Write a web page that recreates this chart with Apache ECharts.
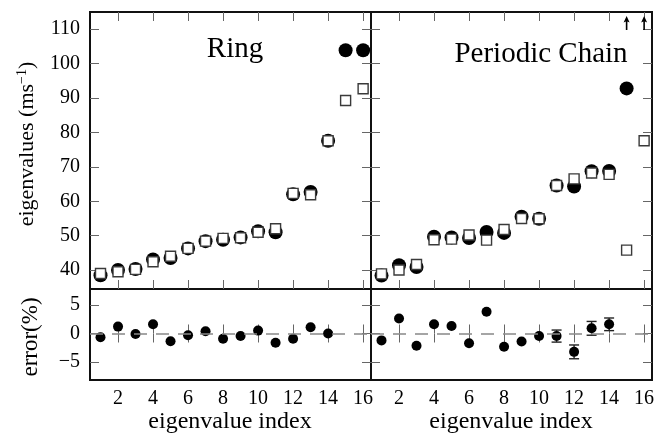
<!DOCTYPE html>
<html>
<head>
<meta charset="utf-8">
<script src="https://cdn.jsdelivr.net/npm/echarts@6/dist/echarts.min.js"></script>
<style>html,body{margin:0;padding:0;background:#fff}#c{width:664px;height:437px}</style>
</head>
<body>
<div id="c"></div>
<script>
// ---- data ----
const indices = [1,2,3,4,5,6,7,8,9,10,11,12,13,14,15,16];
const ringCircle  = [38.5,40.0,40.3,43.1,43.5,46.3,48.4,48.8,49.5,51.3,51.0,62.0,62.7,77.6,103.9,103.9];
const ringSquare  = [39.0,39.5,40.2,42.4,44.0,46.3,48.4,49.2,49.4,51.0,52.0,62.3,61.9,77.6,89.3,92.7];
const chainCircle = [38.4,41.4,40.9,49.7,49.5,49.3,51.1,50.8,55.5,54.9,64.6,64.3,68.7,68.8,92.8,null];
const chainSquare = [38.9,40.0,41.6,48.8,49.0,50.2,48.7,51.8,55.0,54.9,64.6,66.5,68.2,67.8,45.8,77.6];
const offscaleIndex = [15,16];
const offscaleMark  = [111.8,111.8];
const errIndex = [1,2,3,4,5,6,7,8,9,10,11,12,13,14];
const ringError  = [-0.64,1.2,-0.1,1.6,-1.35,-0.3,0.4,-0.9,-0.45,0.5,-1.6,-0.9,1.1,0.0];
const chainError = [-1.2,2.6,-2.15,1.6,1.3,-1.7,3.8,-2.3,-1.4,-0.45,-0.45,-3.2,0.9,1.6];
const chainErrorBar = [0,0,0,0,0,0,0,0,0,0,1.05,1.2,1.2,1.1];
const xTicks = [2,4,6,8,10,12,14,16];
const yTopTicks = [40,50,60,70,80,90,100,110];
const yBotTicks = [-5,0,5];

// ---- layout ----
const FONT = 'Liberation Serif';
const L = 90, W = 281, T = 12, HT = 277, HB = 91;
const grids = [
  {left: L, top: T, width: W, height: HT},
  {left: L + W, top: T, width: W, height: HT},
  {left: L, top: T + HT, width: W, height: HB},
  {left: L + W, top: T + HT, width: W, height: HB}
].map(g => Object.assign({show: true, borderColor: '#111', borderWidth: 2, backgroundColor: 'transparent'}, g));

const tickStyle = {lineStyle: {color: '#666', width: 1}};
function xAx(grid, pos, labels) {
  return {
    type: 'value', gridIndex: grid, position: pos, min: 0.4, max: 16.45,
    axisLine: {show: false}, splitLine: {show: false},
    axisTick: Object.assign({show: true, inside: true, length: 9, customValues: xTicks}, tickStyle),
    axisLabel: {show: labels, customValues: xTicks, margin: 9, color: '#000', fontFamily: FONT, fontSize: 20}
  };
}
function yAx(grid, pos, top, labels) {
  const ticks = top ? yTopTicks : yBotTicks;
  return {
    type: 'value', gridIndex: grid, position: pos,
    min: top ? 34.5 : -8.1, max: top ? 115 : 7.75,
    axisLine: {show: false}, splitLine: {show: false},
    axisTick: Object.assign({show: true, inside: true, length: 9, customValues: ticks}, tickStyle),
    axisLabel: {show: labels, customValues: ticks, margin: 10, color: '#000', fontFamily: FONT, fontSize: 20,
      formatter: v => v < 0 ? '\u2212' + Math.abs(v) : String(v)}
  };
}
const xAxes = [], yAxes = [];
for (let g = 0; g < 4; g++) {
  xAxes.push(xAx(g, 'bottom', g >= 2));
  xAxes.push(xAx(g, 'top', false));
  yAxes.push(yAx(g, 'left', g < 2, g % 2 === 0));
  yAxes.push(yAx(g, 'right', g < 2, false));
}
const pair = (xs, ys) => xs.map((x, i) => [x, ys[i]]);

function circles(g, vals, size) {
  return {type: 'scatter', xAxisIndex: 2*g, yAxisIndex: 2*g, data: pair(indices.slice(0, vals.length), vals).filter(d => d[1] != null),
    symbol: 'circle', symbolSize: size, itemStyle: {color: '#000', opacity: 1}, z: 2, silent: true};
}
function squares(g, vals) {
  return {type: 'scatter', xAxisIndex: 2*g, yAxisIndex: 2*g, data: pair(indices, vals),
    symbol: 'rect', symbolSize: 10, itemStyle: {color: '#fff', borderColor: '#3a3a3a', borderWidth: 1.4, opacity: 1}, z: 3, silent: true};
}
function zeroLine() {
  return {silent: true, symbol: 'none', label: {show: false},
    lineStyle: {color: '#888', width: 1.5, type: [13, 9]}, data: [{yAxis: 0}]};
}
function errSeries(g, vals) {
  return {type: 'scatter', xAxisIndex: 2*g, yAxisIndex: 2*g, data: pair(errIndex, vals),
    symbol: 'circle', symbolSize: 10, itemStyle: {color: '#000', opacity: 1}, z: 3, silent: true, markLine: zeroLine()};
}

const series = [
  circles(0, ringCircle, 14), squares(0, ringSquare),
  circles(1, chainCircle, 14), squares(1, chainSquare),
  {type: 'scatter', xAxisIndex: 2, yAxisIndex: 2, data: pair(offscaleIndex, offscaleMark),
    symbol: 'path://M3,0 L6,6.5 L3.8,5.5 L3.8,14 L2.2,14 L2.2,5.5 L0,6.5 Z', symbolSize: [6, 14],
    itemStyle: {color: '#000', opacity: 1}, silent: true},
  errSeries(2, ringError),
  errSeries(3, chainError),
  {type: 'custom', xAxisIndex: 6, yAxisIndex: 6, silent: true, z: 2,
    data: errIndex.map((x, i) => [x, chainError[i], chainErrorBar[i]]),
    renderItem: function (params, api) {
      const x = api.value(0), y = api.value(1), e = api.value(2);
      if (!e) return null;
      const hi = api.coord([x, y + e]), lo = api.coord([x, y - e]);
      const cw = 5, st = {stroke: '#222', lineWidth: 1.4};
      return {type: 'group', children: [
        {type: 'line', shape: {x1: hi[0], y1: hi[1], x2: lo[0], y2: lo[1]}, style: st},
        {type: 'line', shape: {x1: hi[0]-cw, y1: hi[1], x2: hi[0]+cw, y2: hi[1]}, style: st},
        {type: 'line', shape: {x1: lo[0]-cw, y1: lo[1], x2: lo[0]+cw, y2: lo[1]}, style: st}
      ]};
    }}
];

const txt = (x, y, text, size, rot, extra) => ({
  type: 'text', x: x, y: y, rotation: rot || 0, silent: true,
  style: Object.assign({text: text, fill: '#000', font: size + 'px "' + FONT + '"',
    align: 'center', verticalAlign: 'middle', textAlign: 'center', textVerticalAlign: 'middle'}, extra || {})
});

const option = {
  animation: false,
  backgroundColor: '#fff',
  grid: grids,
  xAxis: xAxes,
  yAxis: yAxes,
  series: series,
  graphic: [
    txt(235, 49, 'Ring', 29),
    txt(541, 54, 'Periodic Chain', 29),
    txt(27, 144, 'eigenvalues (ms{sup|\u22121})', 22, Math.PI / 2, {
      rich: {sup: {fontSize: 14, fontFamily: FONT, verticalAlign: 'top', lineHeight: 24}}
    }),
    txt(31, 337, 'error(%)', 23, Math.PI / 2),
    txt(230, 422, 'eigenvalue index', 24),
    txt(511, 422, 'eigenvalue index', 24)
  ]
};
const chart = echarts.init(document.getElementById('c'), null, {renderer: 'canvas'});
chart.setOption(option);
</script>
</body>
</html>
